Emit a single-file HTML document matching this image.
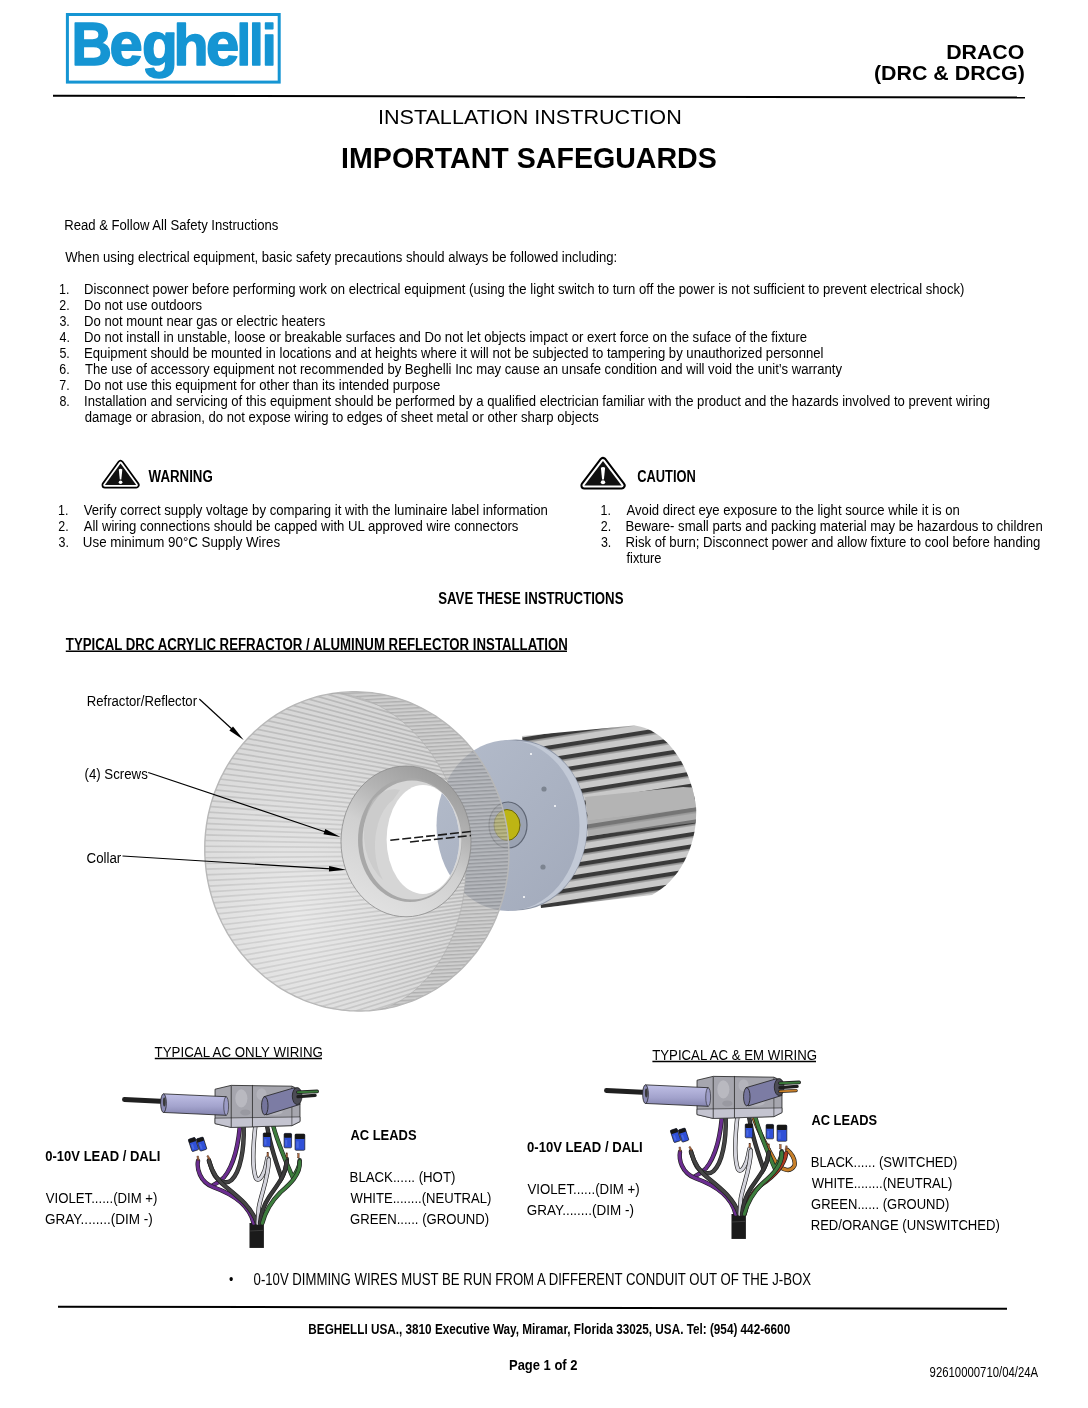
<!DOCTYPE html>
<html><head><meta charset="utf-8"><title>Beghelli Draco Installation Instruction</title>
<style>
html,body{margin:0;padding:0;background:#fff;width:1088px;height:1408px;overflow:hidden}
svg{display:block;position:absolute;left:0;top:0;will-change:transform}
text{font-family:"Liberation Sans",sans-serif;fill:#000}
</style></head><body>
<svg width="1088" height="1408" viewBox="0 0 1088 1408">
<g font-weight="bold" font-size="61">
<text transform="translate(71.39 64.9) scale(0.920 1.000)" style="fill:#1595d3;stroke:#1595d3;stroke-width:1.60;stroke-linejoin:round">B</text>
<text transform="translate(109.43 64.9) scale(0.980 1.000)" style="fill:#1595d3;stroke:#1595d3;stroke-width:1.60;stroke-linejoin:round">e</text>
<text transform="translate(141.97 64.9) scale(0.960 1.000)" style="fill:#1595d3;stroke:#1595d3;stroke-width:1.60;stroke-linejoin:round">g</text>
<text transform="translate(173.42 64.9) scale(0.940 0.950)" style="fill:#1595d3;stroke:#1595d3;stroke-width:1.60;stroke-linejoin:round">h</text>
<text transform="translate(205.93 64.9) scale(0.980 1.000)" style="fill:#1595d3;stroke:#1595d3;stroke-width:1.60;stroke-linejoin:round">e</text>
<text transform="translate(236.52 64.9) scale(0.860 0.950)" style="fill:#1595d3;stroke:#1595d3;stroke-width:1.60;stroke-linejoin:round">l</text>
<text transform="translate(248.92 64.9) scale(0.860 0.950)" style="fill:#1595d3;stroke:#1595d3;stroke-width:1.60;stroke-linejoin:round">l</text>
<text transform="translate(261.64 64.9) scale(0.880 0.950)" style="fill:#1595d3;stroke:#1595d3;stroke-width:1.60;stroke-linejoin:round">i</text>
</g>
<rect x="67.4" y="14.5" width="211.8" height="67.6" fill="none" stroke="#1595d3" stroke-width="3"/>
<!-- header rule -->
<line x1="53" y1="95.7" x2="1025" y2="97.6" stroke="#000" stroke-width="2"/>
<!-- footer rule -->
<line x1="58" y1="1306.7" x2="1007" y2="1308.7" stroke="#000" stroke-width="2"/>
<!-- underlines -->
<line x1="65.8" y1="651.2" x2="567" y2="651.2" stroke="#000" stroke-width="1.5"/>
<line x1="154.8" y1="1058.5" x2="322" y2="1058.5" stroke="#000" stroke-width="1.6"/>
<line x1="652.4" y1="1061.5" x2="816" y2="1061.5" stroke="#000" stroke-width="1.6"/>
<!-- warning icons -->

<g>
<path d="M603 461 L621.6 485.5 L584.4 485.5 Z" fill="#000" stroke="#000" stroke-width="8" stroke-linejoin="round"/>
<path d="M603 461 L621.6 485.5 L584.4 485.5 Z" fill="#fff" stroke="#fff" stroke-width="4" stroke-linejoin="round"/>
<path d="M603 461 L621.6 485.5 L584.4 485.5 Z" fill="#111"/>
<path d="M600.9 467.8 Q603 466.2 605.1 467.8 L603.9 479.4 L602.1 479.4 Z" fill="#fff"/>
<ellipse cx="603" cy="482.3" rx="2.2" ry="2" fill="#fff"/>
</g>
<g transform="translate(101.3 460) scale(0.841 0.88) translate(-580.1 -457.1)">
<path d="M603 461 L621.6 485.5 L584.4 485.5 Z" fill="#000" stroke="#000" stroke-width="8" stroke-linejoin="round"/>
<path d="M603 461 L621.6 485.5 L584.4 485.5 Z" fill="#fff" stroke="#fff" stroke-width="4" stroke-linejoin="round"/>
<path d="M603 461 L621.6 485.5 L584.4 485.5 Z" fill="#111"/>
<path d="M600.9 467.8 Q603 466.2 605.1 467.8 L603.9 479.4 L602.1 479.4 Z" fill="#fff"/>
<ellipse cx="603" cy="482.3" rx="2.2" ry="2" fill="#fff"/>
</g>

<defs>
<pattern id="fins" patternUnits="userSpaceOnUse" width="12" height="12" patternTransform="rotate(-9 640 810)">
<rect width="12" height="12" fill="#c9c9c9"/>
<rect y="0" width="12" height="4.4" fill="#3a3a3a"/>
<rect y="4.4" width="12" height="1.2" fill="#8a8a8a"/>
</pattern>
<pattern id="stria" patternUnits="userSpaceOnUse" width="20" height="4.2" patternTransform="rotate(1.5 358 851)">
<rect width="20" height="4.2" fill="#dedede"/>
<rect y="0" width="20" height="1.4" fill="#c4c4c4"/>
</pattern>
<pattern id="stria2" patternUnits="userSpaceOnUse" width="20" height="3.6" patternTransform="rotate(-3 450 851)">
<rect width="20" height="3.6" fill="#b8b8b8"/>
<rect y="0" width="20" height="1.4" fill="#8c8c8c"/>
</pattern>
<linearGradient id="diskg" x1="0" y1="0" x2="1" y2="1">
<stop offset="0" stop-color="#b4bccb"/><stop offset="1" stop-color="#a2aabb"/>
</linearGradient>
<linearGradient id="collarg" x1="0.75" y1="0.05" x2="0.3" y2="0.95">
<stop offset="0" stop-color="#9c9c9c"/><stop offset="0.3" stop-color="#b4b4b4"/><stop offset="0.55" stop-color="#d0d0d0"/><stop offset="1" stop-color="#e0e0e0"/>
</linearGradient>
<radialGradient id="refl" cx="0.35" cy="0.7" r="0.7">
<stop offset="0" stop-color="#fff" stop-opacity="0.45"/><stop offset="1" stop-color="#fff" stop-opacity="0"/>
</radialGradient>
<clipPath id="hsclip"><path d="M522 736 L634 725.5 C662 728 690 760 696 807 C698 845 680 880 652 895 L541 908 Z"/></clipPath>
<clipPath id="holeclip"><ellipse cx="423" cy="839.5" rx="36.4" ry="54.5"/></clipPath>
</defs>
<!-- heatsink -->
<path d="M522 736 L634 725.5 C662 728 690 760 696 807 C698 845 680 880 652 895 L541 908 Z" fill="url(#fins)"/>
<g clip-path="url(#hsclip)"><path d="M585 797 L683 787 L700 788 L700 807 L588 820 Z" fill="#b4b4b4"/>
<path d="M588 820 L700 807 L700 822 L588 836 Z" fill="#9c9c9c" opacity="0.6"/></g>
<!-- disk -->
<ellipse cx="516" cy="825" rx="71.5" ry="85.5" fill="#8e96a6"/>
<ellipse cx="517" cy="825" rx="70" ry="84" fill="#c2c9d6"/>
<ellipse cx="508" cy="825.5" rx="71.5" ry="85.5" fill="url(#diskg)"/>
<ellipse cx="508" cy="825" rx="19" ry="23" fill="#9aa2b2" stroke="#5f6674" stroke-width="1.2"/>
<ellipse cx="507" cy="825" rx="13" ry="15.5" fill="#bdb514" stroke="#6a6408" stroke-width="1"/>
<circle cx="544" cy="789" r="2.6" fill="#7c8490"/>
<circle cx="543" cy="867" r="2.6" fill="#7c8490"/>
<circle cx="531" cy="754" r="1" fill="#fff"/>
<circle cx="555" cy="806" r="1" fill="#fff"/>
<circle cx="524" cy="897" r="1" fill="#fff"/>
<!-- reflector -->
<clipPath id="bodyclip"><path d="M463.5 834.9 L464.1 839.0 L464.6 843.2 L465.0 847.3 L465.4 851.5 L465.6 855.7 L465.8 859.8 L465.9 864.0 L465.9 868.1 L465.8 872.3 L465.6 876.4 L465.3 880.5 L465.0 884.6 L464.5 888.7 L464.0 892.8 L463.4 896.8 L462.7 900.8 L462.0 904.7 L461.1 908.7 L460.2 912.6 L459.2 916.4 L458.1 920.2 L456.9 924.0 L455.7 927.7 L454.4 931.3 L453.0 935.0 L451.5 938.5 L450.0 942.0 L448.4 945.4 L446.7 948.8 L445.0 952.1 L443.2 955.3 L441.3 958.5 L439.4 961.6 L437.4 964.6 L435.3 967.5 L433.3 970.4 L431.1 973.2 L428.9 975.9 L426.7 978.5 L424.4 981.0 L422.1 983.4 L419.7 985.7 L417.3 988.0 L414.9 990.1 L412.4 992.2 L410.0 994.1 L407.5 996.0 L405.0 997.7 L402.5 999.4 L400.0 1000.9 L397.5 1002.3 L395.0 1003.7 L392.6 1004.9 L390.2 1006.0 L387.9 1006.9 L385.6 1007.8 L383.6 1008.5 L381.7 1009.0 L380.3 1009.4 L381.3 1009.3 L377.4 1009.9 L373.4 1010.3 L369.4 1010.7 L365.5 1010.9 L361.5 1011.0 L357.5 1011.0 L353.5 1010.9 L349.6 1010.7 L345.6 1010.4 L341.6 1010.0 L337.7 1009.4 L333.7 1008.8 L329.8 1008.0 L325.9 1007.2 L322.0 1006.2 L318.1 1005.1 L314.3 1003.9 L310.5 1002.7 L306.7 1001.3 L303.0 999.8 L299.3 998.2 L295.6 996.5 L292.0 994.7 L288.4 992.8 L284.9 990.8 L281.4 988.8 L277.9 986.6 L274.6 984.3 L271.3 981.9 L268.0 979.5 L264.8 977.0 L261.7 974.3 L258.6 971.6 L255.6 968.8 L252.6 966.0 L249.8 963.0 L247.0 960.0 L244.3 956.9 L241.6 953.7 L239.1 950.5 L236.6 947.2 L234.2 943.8 L231.9 940.4 L229.7 936.9 L227.5 933.3 L225.5 929.7 L223.5 926.0 L221.6 922.3 L219.9 918.5 L218.2 914.7 L216.6 910.9 L215.1 907.0 L213.7 903.0 L212.4 899.1 L211.2 895.1 L210.1 891.0 L209.1 887.0 L208.2 882.9 L207.4 878.8 L206.7 874.6 L206.1 870.5 L205.7 866.3 L205.3 862.2 L205.0 858.0 L204.8 853.8 L204.8 849.6 L204.8 845.5 L204.9 841.3 L205.2 837.1 L205.5 833.0 L206.0 828.8 L206.5 824.7 L207.2 820.6 L207.9 816.5 L208.8 812.4 L209.8 808.4 L210.8 804.4 L212.0 800.4 L213.3 796.5 L214.6 792.6 L216.1 788.7 L217.6 784.9 L219.3 781.1 L221.0 777.4 L222.9 773.7 L224.8 770.1 L226.8 766.5 L228.9 763.0 L231.1 759.6 L233.4 756.2 L235.8 752.8 L238.2 749.6 L240.8 746.4 L243.4 743.3 L246.1 740.3 L248.8 737.3 L251.7 734.4 L254.6 731.6 L257.6 728.9 L260.6 726.3 L263.7 723.7 L266.9 721.2 L270.2 718.9 L273.5 716.6 L276.8 714.4 L280.2 712.3 L283.7 710.3 L287.2 708.4 L290.8 706.6 L294.4 704.9 L298.0 703.3 L301.7 701.8 L305.5 700.4 L309.2 699.1 L313.0 697.9 L316.8 696.8 L320.7 695.8 L324.6 694.9 L328.5 694.1 L332.4 693.5 L331.5 693.7 L332.9 693.6 L334.8 693.6 L337.0 693.7 L339.4 693.8 L341.9 694.0 L344.5 694.3 L347.2 694.7 L350.0 695.2 L352.8 695.8 L355.6 696.5 L358.5 697.4 L361.4 698.3 L364.3 699.3 L367.3 700.4 L370.2 701.6 L373.2 702.9 L376.1 704.3 L379.1 705.8 L382.0 707.5 L385.0 709.2 L387.9 711.0 L390.8 712.9 L393.7 714.9 L396.6 717.0 L399.4 719.1 L402.2 721.4 L405.0 723.8 L407.7 726.2 L410.4 728.8 L413.0 731.4 L415.7 734.1 L418.2 736.9 L420.7 739.7 L423.2 742.7 L425.6 745.7 L428.0 748.8 L430.3 752.0 L432.6 755.2 L434.7 758.5 L436.9 761.9 L438.9 765.3 L440.9 768.8 L442.9 772.3 L444.7 775.9 L446.5 779.6 L448.2 783.3 L449.9 787.0 L451.4 790.8 L452.9 794.7 L454.4 798.6 L455.7 802.5 L456.9 806.4 L458.1 810.4 L459.2 814.4 L460.2 818.5 L461.2 822.6 L462.0 826.7 L462.8 830.8 Z"/></clipPath>
<path d="M463.5 834.9 L464.1 839.0 L464.6 843.2 L465.0 847.3 L465.4 851.5 L465.6 855.7 L465.8 859.8 L465.9 864.0 L465.9 868.1 L465.8 872.3 L465.6 876.4 L465.3 880.5 L465.0 884.6 L464.5 888.7 L464.0 892.8 L463.4 896.8 L462.7 900.8 L462.0 904.7 L461.1 908.7 L460.2 912.6 L459.2 916.4 L458.1 920.2 L456.9 924.0 L455.7 927.7 L454.4 931.3 L453.0 935.0 L451.5 938.5 L450.0 942.0 L448.4 945.4 L446.7 948.8 L445.0 952.1 L443.2 955.3 L441.3 958.5 L439.4 961.6 L437.4 964.6 L435.3 967.5 L433.3 970.4 L431.1 973.2 L428.9 975.9 L426.7 978.5 L424.4 981.0 L422.1 983.4 L419.7 985.7 L417.3 988.0 L414.9 990.1 L412.4 992.2 L410.0 994.1 L407.5 996.0 L405.0 997.7 L402.5 999.4 L400.0 1000.9 L397.5 1002.3 L395.0 1003.7 L392.6 1004.9 L390.2 1006.0 L387.9 1006.9 L385.6 1007.8 L383.6 1008.5 L381.7 1009.0 L380.3 1009.4 L381.3 1009.3 L377.4 1009.9 L373.4 1010.3 L369.4 1010.7 L365.5 1010.9 L361.5 1011.0 L357.5 1011.0 L353.5 1010.9 L349.6 1010.7 L345.6 1010.4 L341.6 1010.0 L337.7 1009.4 L333.7 1008.8 L329.8 1008.0 L325.9 1007.2 L322.0 1006.2 L318.1 1005.1 L314.3 1003.9 L310.5 1002.7 L306.7 1001.3 L303.0 999.8 L299.3 998.2 L295.6 996.5 L292.0 994.7 L288.4 992.8 L284.9 990.8 L281.4 988.8 L277.9 986.6 L274.6 984.3 L271.3 981.9 L268.0 979.5 L264.8 977.0 L261.7 974.3 L258.6 971.6 L255.6 968.8 L252.6 966.0 L249.8 963.0 L247.0 960.0 L244.3 956.9 L241.6 953.7 L239.1 950.5 L236.6 947.2 L234.2 943.8 L231.9 940.4 L229.7 936.9 L227.5 933.3 L225.5 929.7 L223.5 926.0 L221.6 922.3 L219.9 918.5 L218.2 914.7 L216.6 910.9 L215.1 907.0 L213.7 903.0 L212.4 899.1 L211.2 895.1 L210.1 891.0 L209.1 887.0 L208.2 882.9 L207.4 878.8 L206.7 874.6 L206.1 870.5 L205.7 866.3 L205.3 862.2 L205.0 858.0 L204.8 853.8 L204.8 849.6 L204.8 845.5 L204.9 841.3 L205.2 837.1 L205.5 833.0 L206.0 828.8 L206.5 824.7 L207.2 820.6 L207.9 816.5 L208.8 812.4 L209.8 808.4 L210.8 804.4 L212.0 800.4 L213.3 796.5 L214.6 792.6 L216.1 788.7 L217.6 784.9 L219.3 781.1 L221.0 777.4 L222.9 773.7 L224.8 770.1 L226.8 766.5 L228.9 763.0 L231.1 759.6 L233.4 756.2 L235.8 752.8 L238.2 749.6 L240.8 746.4 L243.4 743.3 L246.1 740.3 L248.8 737.3 L251.7 734.4 L254.6 731.6 L257.6 728.9 L260.6 726.3 L263.7 723.7 L266.9 721.2 L270.2 718.9 L273.5 716.6 L276.8 714.4 L280.2 712.3 L283.7 710.3 L287.2 708.4 L290.8 706.6 L294.4 704.9 L298.0 703.3 L301.7 701.8 L305.5 700.4 L309.2 699.1 L313.0 697.9 L316.8 696.8 L320.7 695.8 L324.6 694.9 L328.5 694.1 L332.4 693.5 L331.5 693.7 L332.9 693.6 L334.8 693.6 L337.0 693.7 L339.4 693.8 L341.9 694.0 L344.5 694.3 L347.2 694.7 L350.0 695.2 L352.8 695.8 L355.6 696.5 L358.5 697.4 L361.4 698.3 L364.3 699.3 L367.3 700.4 L370.2 701.6 L373.2 702.9 L376.1 704.3 L379.1 705.8 L382.0 707.5 L385.0 709.2 L387.9 711.0 L390.8 712.9 L393.7 714.9 L396.6 717.0 L399.4 719.1 L402.2 721.4 L405.0 723.8 L407.7 726.2 L410.4 728.8 L413.0 731.4 L415.7 734.1 L418.2 736.9 L420.7 739.7 L423.2 742.7 L425.6 745.7 L428.0 748.8 L430.3 752.0 L432.6 755.2 L434.7 758.5 L436.9 761.9 L438.9 765.3 L440.9 768.8 L442.9 772.3 L444.7 775.9 L446.5 779.6 L448.2 783.3 L449.9 787.0 L451.4 790.8 L452.9 794.7 L454.4 798.6 L455.7 802.5 L456.9 806.4 L458.1 810.4 L459.2 814.4 L460.2 818.5 L461.2 822.6 L462.0 826.7 L462.8 830.8 Z" fill="#d6d6d6"/>
<g clip-path="url(#bodyclip)"><path d="M860.0 852.0 L207.5 1156.3 M860.0 852.0 L204.8 1150.6 M860.0 852.0 L202.2 1144.9 M860.0 852.0 L199.7 1139.1 M860.0 852.0 L197.2 1133.3 M860.0 852.0 L194.8 1127.5 M860.0 852.0 L192.4 1121.7 M860.0 852.0 L190.1 1115.9 M860.0 852.0 L187.8 1110.0 M860.0 852.0 L185.6 1104.1 M860.0 852.0 L183.4 1098.3 M860.0 852.0 L181.3 1092.3 M860.0 852.0 L179.2 1086.4 M860.0 852.0 L177.2 1080.5 M860.0 852.0 L175.2 1074.5 M860.0 852.0 L173.3 1068.5 M860.0 852.0 L171.5 1062.5 M860.0 852.0 L169.6 1056.5 M860.0 852.0 L167.9 1050.5 M860.0 852.0 L166.2 1044.4 M860.0 852.0 L164.5 1038.3 M860.0 852.0 L162.9 1032.3 M860.0 852.0 L161.4 1026.2 M860.0 852.0 L159.9 1020.1 M860.0 852.0 L158.5 1014.0 M860.0 852.0 L157.1 1007.8 M860.0 852.0 L155.7 1001.7 M860.0 852.0 L154.5 995.5 M860.0 852.0 L153.2 989.4 M860.0 852.0 L152.1 983.2 M860.0 852.0 L150.9 977.0 M860.0 852.0 L149.9 970.8 M860.0 852.0 L148.9 964.6 M860.0 852.0 L147.9 958.4 M860.0 852.0 L147.0 952.2 M860.0 852.0 L146.2 946.0 M860.0 852.0 L145.4 939.7 M860.0 852.0 L144.6 933.5 M860.0 852.0 L143.9 927.3 M860.0 852.0 L143.3 921.0 M860.0 852.0 L142.7 914.8 M860.0 852.0 L142.2 908.5 M860.0 852.0 L141.8 902.2 M860.0 852.0 L141.3 896.0 M860.0 852.0 L141.0 889.7 M860.0 852.0 L140.7 883.4 M860.0 852.0 L140.4 877.1 M860.0 852.0 L140.2 870.8 M860.0 852.0 L140.1 864.6 M860.0 852.0 L140.0 858.3 M860.0 852.0 L140.0 852.0 M860.0 852.0 L140.0 845.7 M860.0 852.0 L140.1 839.4 M860.0 852.0 L140.2 833.2 M860.0 852.0 L140.4 826.9 M860.0 852.0 L140.7 820.6 M860.0 852.0 L141.0 814.3 M860.0 852.0 L141.3 808.0 M860.0 852.0 L141.8 801.8 M860.0 852.0 L142.2 795.5 M860.0 852.0 L142.7 789.2 M860.0 852.0 L143.3 783.0 M860.0 852.0 L143.9 776.7 M860.0 852.0 L144.6 770.5 M860.0 852.0 L145.4 764.3 M860.0 852.0 L146.2 758.0 M860.0 852.0 L147.0 751.8 M860.0 852.0 L147.9 745.6 M860.0 852.0 L148.9 739.4 M860.0 852.0 L149.9 733.2 M860.0 852.0 L150.9 727.0 M860.0 852.0 L152.1 720.8 M860.0 852.0 L153.2 714.6 M860.0 852.0 L154.5 708.5 M860.0 852.0 L155.7 702.3 M860.0 852.0 L157.1 696.2 M860.0 852.0 L158.5 690.0 M860.0 852.0 L159.9 683.9 M860.0 852.0 L161.4 677.8 M860.0 852.0 L162.9 671.7 M860.0 852.0 L164.5 665.7 M860.0 852.0 L166.2 659.6 M860.0 852.0 L167.9 653.5 M860.0 852.0 L169.6 647.5 M860.0 852.0 L171.5 641.5 M860.0 852.0 L173.3 635.5 M860.0 852.0 L175.2 629.5 M860.0 852.0 L177.2 623.5 M860.0 852.0 L179.2 617.6 M860.0 852.0 L181.3 611.7 M860.0 852.0 L183.4 605.7 M860.0 852.0 L185.6 599.9 M860.0 852.0 L187.8 594.0 M860.0 852.0 L190.1 588.1 M860.0 852.0 L192.4 582.3 M860.0 852.0 L194.8 576.5 M860.0 852.0 L197.2 570.7 M860.0 852.0 L199.7 564.9 M860.0 852.0 L202.2 559.1 M860.0 852.0 L204.8 553.4 M860.0 852.0 L207.5 547.7" stroke="#b9b9b9" stroke-width="1.7" fill="none"/></g>
<path d="M463.5 834.9 L464.1 839.0 L464.6 843.2 L465.0 847.3 L465.4 851.5 L465.6 855.7 L465.8 859.8 L465.9 864.0 L465.9 868.1 L465.8 872.3 L465.6 876.4 L465.3 880.5 L465.0 884.6 L464.5 888.7 L464.0 892.8 L463.4 896.8 L462.7 900.8 L462.0 904.7 L461.1 908.7 L460.2 912.6 L459.2 916.4 L458.1 920.2 L456.9 924.0 L455.7 927.7 L454.4 931.3 L453.0 935.0 L451.5 938.5 L450.0 942.0 L448.4 945.4 L446.7 948.8 L445.0 952.1 L443.2 955.3 L441.3 958.5 L439.4 961.6 L437.4 964.6 L435.3 967.5 L433.3 970.4 L431.1 973.2 L428.9 975.9 L426.7 978.5 L424.4 981.0 L422.1 983.4 L419.7 985.7 L417.3 988.0 L414.9 990.1 L412.4 992.2 L410.0 994.1 L407.5 996.0 L405.0 997.7 L402.5 999.4 L400.0 1000.9 L397.5 1002.3 L395.0 1003.7 L392.6 1004.9 L390.2 1006.0 L387.9 1006.9 L385.6 1007.8 L383.6 1008.5 L381.7 1009.0 L380.3 1009.4 L381.3 1009.3 L377.4 1009.9 L373.4 1010.3 L369.4 1010.7 L365.5 1010.9 L361.5 1011.0 L357.5 1011.0 L353.5 1010.9 L349.6 1010.7 L345.6 1010.4 L341.6 1010.0 L337.7 1009.4 L333.7 1008.8 L329.8 1008.0 L325.9 1007.2 L322.0 1006.2 L318.1 1005.1 L314.3 1003.9 L310.5 1002.7 L306.7 1001.3 L303.0 999.8 L299.3 998.2 L295.6 996.5 L292.0 994.7 L288.4 992.8 L284.9 990.8 L281.4 988.8 L277.9 986.6 L274.6 984.3 L271.3 981.9 L268.0 979.5 L264.8 977.0 L261.7 974.3 L258.6 971.6 L255.6 968.8 L252.6 966.0 L249.8 963.0 L247.0 960.0 L244.3 956.9 L241.6 953.7 L239.1 950.5 L236.6 947.2 L234.2 943.8 L231.9 940.4 L229.7 936.9 L227.5 933.3 L225.5 929.7 L223.5 926.0 L221.6 922.3 L219.9 918.5 L218.2 914.7 L216.6 910.9 L215.1 907.0 L213.7 903.0 L212.4 899.1 L211.2 895.1 L210.1 891.0 L209.1 887.0 L208.2 882.9 L207.4 878.8 L206.7 874.6 L206.1 870.5 L205.7 866.3 L205.3 862.2 L205.0 858.0 L204.8 853.8 L204.8 849.6 L204.8 845.5 L204.9 841.3 L205.2 837.1 L205.5 833.0 L206.0 828.8 L206.5 824.7 L207.2 820.6 L207.9 816.5 L208.8 812.4 L209.8 808.4 L210.8 804.4 L212.0 800.4 L213.3 796.5 L214.6 792.6 L216.1 788.7 L217.6 784.9 L219.3 781.1 L221.0 777.4 L222.9 773.7 L224.8 770.1 L226.8 766.5 L228.9 763.0 L231.1 759.6 L233.4 756.2 L235.8 752.8 L238.2 749.6 L240.8 746.4 L243.4 743.3 L246.1 740.3 L248.8 737.3 L251.7 734.4 L254.6 731.6 L257.6 728.9 L260.6 726.3 L263.7 723.7 L266.9 721.2 L270.2 718.9 L273.5 716.6 L276.8 714.4 L280.2 712.3 L283.7 710.3 L287.2 708.4 L290.8 706.6 L294.4 704.9 L298.0 703.3 L301.7 701.8 L305.5 700.4 L309.2 699.1 L313.0 697.9 L316.8 696.8 L320.7 695.8 L324.6 694.9 L328.5 694.1 L332.4 693.5 L331.5 693.7 L332.9 693.6 L334.8 693.6 L337.0 693.7 L339.4 693.8 L341.9 694.0 L344.5 694.3 L347.2 694.7 L350.0 695.2 L352.8 695.8 L355.6 696.5 L358.5 697.4 L361.4 698.3 L364.3 699.3 L367.3 700.4 L370.2 701.6 L373.2 702.9 L376.1 704.3 L379.1 705.8 L382.0 707.5 L385.0 709.2 L387.9 711.0 L390.8 712.9 L393.7 714.9 L396.6 717.0 L399.4 719.1 L402.2 721.4 L405.0 723.8 L407.7 726.2 L410.4 728.8 L413.0 731.4 L415.7 734.1 L418.2 736.9 L420.7 739.7 L423.2 742.7 L425.6 745.7 L428.0 748.8 L430.3 752.0 L432.6 755.2 L434.7 758.5 L436.9 761.9 L438.9 765.3 L440.9 768.8 L442.9 772.3 L444.7 775.9 L446.5 779.6 L448.2 783.3 L449.9 787.0 L451.4 790.8 L452.9 794.7 L454.4 798.6 L455.7 802.5 L456.9 806.4 L458.1 810.4 L459.2 814.4 L460.2 818.5 L461.2 822.6 L462.0 826.7 L462.8 830.8 Z" fill="url(#refl)"/>
<path d="M507.0 828.2 L507.6 832.3 L508.0 836.5 L508.4 840.6 L508.7 844.8 L508.9 849.0 L508.9 853.2 L508.9 857.3 L508.8 861.5 L508.5 865.7 L508.2 869.8 L507.7 874.0 L507.2 878.1 L506.5 882.2 L505.8 886.3 L504.9 890.4 L503.9 894.4 L502.9 898.4 L501.7 902.4 L500.4 906.3 L499.1 910.2 L497.6 914.1 L496.1 917.9 L494.4 921.7 L492.7 925.4 L490.8 929.1 L488.9 932.7 L486.9 936.3 L484.8 939.8 L482.6 943.2 L480.3 946.6 L477.9 950.0 L475.5 953.2 L472.9 956.4 L470.3 959.5 L467.6 962.5 L464.9 965.5 L462.0 968.4 L459.1 971.2 L456.1 973.9 L453.1 976.5 L450.0 979.1 L446.8 981.6 L443.5 983.9 L440.2 986.2 L436.9 988.4 L433.5 990.5 L430.0 992.5 L426.5 994.4 L422.9 996.2 L419.3 997.9 L415.7 999.5 L412.0 1001.0 L408.2 1002.4 L404.5 1003.7 L400.7 1004.9 L396.9 1006.0 L393.0 1007.0 L389.1 1007.9 L385.2 1008.7 L381.3 1009.3 L377.4 1009.9 L373.4 1010.3 L369.4 1010.7 L365.5 1010.9 L361.5 1011.0 L357.5 1011.0 L353.5 1010.9 L349.6 1010.7 L345.6 1010.4 L341.6 1010.0 L337.7 1009.4 L333.7 1008.8 L329.8 1008.0 L325.9 1007.2 L322.0 1006.2 L318.1 1005.1 L314.3 1003.9 L310.5 1002.7 L306.7 1001.3 L303.0 999.8 L299.3 998.2 L295.6 996.5 L292.0 994.7 L288.4 992.8 L284.9 990.8 L281.4 988.8 L277.9 986.6 L274.6 984.3 L271.3 981.9 L268.0 979.5 L264.8 977.0 L261.7 974.3 L258.6 971.6 L255.6 968.8 L252.6 966.0 L249.8 963.0 L247.0 960.0 L244.3 956.9 L241.6 953.7 L239.1 950.5 L236.6 947.2 L234.2 943.8 L231.9 940.4 L229.7 936.9 L227.5 933.3 L225.5 929.7 L223.5 926.0 L221.6 922.3 L219.9 918.5 L218.2 914.7 L216.6 910.9 L215.1 907.0 L213.7 903.0 L212.4 899.1 L211.2 895.1 L210.1 891.0 L209.1 887.0 L208.2 882.9 L207.4 878.8 L206.7 874.6 L206.1 870.5 L205.7 866.3 L205.3 862.2 L205.0 858.0 L204.8 853.8 L204.8 849.6 L204.8 845.5 L204.9 841.3 L205.2 837.1 L205.5 833.0 L206.0 828.8 L206.5 824.7 L207.2 820.6 L207.9 816.5 L208.8 812.4 L209.8 808.4 L210.8 804.4 L212.0 800.4 L213.3 796.5 L214.6 792.6 L216.1 788.7 L217.6 784.9 L219.3 781.1 L221.0 777.4 L222.9 773.7 L224.8 770.1 L226.8 766.5 L228.9 763.0 L231.1 759.6 L233.4 756.2 L235.8 752.8 L238.2 749.6 L240.8 746.4 L243.4 743.3 L246.1 740.3 L248.8 737.3 L251.7 734.4 L254.6 731.6 L257.6 728.9 L260.6 726.3 L263.7 723.7 L266.9 721.2 L270.2 718.9 L273.5 716.6 L276.8 714.4 L280.2 712.3 L283.7 710.3 L287.2 708.4 L290.8 706.6 L294.4 704.9 L298.0 703.3 L301.7 701.8 L305.5 700.4 L309.2 699.1 L313.0 697.9 L316.8 696.8 L320.7 695.8 L324.6 694.9 L328.5 694.1 L332.4 693.5 L336.3 692.9 L340.3 692.5 L344.3 692.1 L348.2 691.9 L352.2 691.8 L356.2 691.8 L360.2 691.9 L364.1 692.1 L368.1 692.4 L372.1 692.8 L376.0 693.4 L380.0 694.0 L383.9 694.8 L387.8 695.6 L391.7 696.6 L395.6 697.7 L399.4 698.9 L403.2 700.1 L407.0 701.5 L410.7 703.0 L414.4 704.6 L418.1 706.3 L421.7 708.1 L425.3 710.0 L428.8 712.0 L432.3 714.0 L435.8 716.2 L439.1 718.5 L442.4 720.9 L445.7 723.3 L448.9 725.8 L452.0 728.5 L455.1 731.2 L458.1 734.0 L461.1 736.8 L463.9 739.8 L466.7 742.8 L469.4 745.9 L472.1 749.1 L474.6 752.3 L477.1 755.6 L479.5 759.0 L481.8 762.4 L484.0 765.9 L486.2 769.5 L488.2 773.1 L490.2 776.8 L492.1 780.5 L493.8 784.3 L495.5 788.1 L497.1 791.9 L498.6 795.8 L500.0 799.8 L501.3 803.7 L502.5 807.7 L503.6 811.8 L504.6 815.8 L505.5 819.9 L506.3 824.0 Z M462.8 830.8 L462.0 826.7 L461.2 822.6 L460.2 818.5 L459.2 814.4 L458.1 810.4 L456.9 806.4 L455.7 802.5 L454.4 798.6 L452.9 794.7 L451.4 790.8 L449.9 787.0 L448.2 783.3 L446.5 779.6 L444.7 775.9 L442.9 772.3 L440.9 768.8 L438.9 765.3 L436.9 761.9 L434.7 758.5 L432.6 755.2 L430.3 752.0 L428.0 748.8 L425.6 745.7 L423.2 742.7 L420.7 739.7 L418.2 736.9 L415.7 734.1 L413.0 731.4 L410.4 728.8 L407.7 726.2 L405.0 723.8 L402.2 721.4 L399.4 719.1 L396.6 717.0 L393.7 714.9 L390.8 712.9 L387.9 711.0 L385.0 709.2 L382.0 707.5 L379.1 705.8 L376.1 704.3 L373.2 702.9 L370.2 701.6 L367.3 700.4 L364.3 699.3 L361.4 698.3 L358.5 697.4 L355.6 696.5 L352.8 695.8 L350.0 695.2 L347.2 694.7 L344.5 694.3 L341.9 694.0 L339.4 693.8 L337.0 693.7 L334.8 693.6 L332.9 693.6 L331.5 693.7 L332.4 693.5 L328.5 694.1 L324.6 694.9 L320.7 695.8 L316.8 696.8 L313.0 697.9 L309.2 699.1 L305.5 700.4 L301.7 701.8 L298.0 703.3 L294.4 704.9 L290.8 706.6 L287.2 708.4 L283.7 710.3 L280.2 712.3 L276.8 714.4 L273.5 716.6 L270.2 718.9 L266.9 721.2 L263.7 723.7 L260.6 726.3 L257.6 728.9 L254.6 731.6 L251.7 734.4 L248.8 737.3 L246.1 740.3 L243.4 743.3 L240.8 746.4 L238.2 749.6 L235.8 752.8 L233.4 756.2 L231.1 759.6 L228.9 763.0 L226.8 766.5 L224.8 770.1 L222.9 773.7 L221.0 777.4 L219.3 781.1 L217.6 784.9 L216.1 788.7 L214.6 792.6 L213.3 796.5 L212.0 800.4 L210.8 804.4 L209.8 808.4 L208.8 812.4 L207.9 816.5 L207.2 820.6 L206.5 824.7 L206.0 828.8 L205.5 833.0 L205.2 837.1 L204.9 841.3 L204.8 845.5 L204.8 849.6 L204.8 853.8 L205.0 858.0 L205.3 862.2 L205.7 866.3 L206.1 870.5 L206.7 874.6 L207.4 878.8 L208.2 882.9 L209.1 887.0 L210.1 891.0 L211.2 895.1 L212.4 899.1 L213.7 903.0 L215.1 907.0 L216.6 910.9 L218.2 914.7 L219.9 918.5 L221.6 922.3 L223.5 926.0 L225.5 929.7 L227.5 933.3 L229.7 936.9 L231.9 940.4 L234.2 943.8 L236.6 947.2 L239.1 950.5 L241.6 953.7 L244.3 956.9 L247.0 960.0 L249.8 963.0 L252.6 966.0 L255.6 968.8 L258.6 971.6 L261.7 974.3 L264.8 977.0 L268.0 979.5 L271.3 981.9 L274.6 984.3 L277.9 986.6 L281.4 988.8 L284.9 990.8 L288.4 992.8 L292.0 994.7 L295.6 996.5 L299.3 998.2 L303.0 999.8 L306.7 1001.3 L310.5 1002.7 L314.3 1003.9 L318.1 1005.1 L322.0 1006.2 L325.9 1007.2 L329.8 1008.0 L333.7 1008.8 L337.7 1009.4 L341.6 1010.0 L345.6 1010.4 L349.6 1010.7 L353.5 1010.9 L357.5 1011.0 L361.5 1011.0 L365.5 1010.9 L369.4 1010.7 L373.4 1010.3 L377.4 1009.9 L381.3 1009.3 L380.3 1009.4 L381.7 1009.0 L383.6 1008.5 L385.6 1007.8 L387.9 1006.9 L390.2 1006.0 L392.6 1004.9 L395.0 1003.7 L397.5 1002.3 L400.0 1000.9 L402.5 999.4 L405.0 997.7 L407.5 996.0 L410.0 994.1 L412.4 992.2 L414.9 990.1 L417.3 988.0 L419.7 985.7 L422.1 983.4 L424.4 981.0 L426.7 978.5 L428.9 975.9 L431.1 973.2 L433.3 970.4 L435.3 967.5 L437.4 964.6 L439.4 961.6 L441.3 958.5 L443.2 955.3 L445.0 952.1 L446.7 948.8 L448.4 945.4 L450.0 942.0 L451.5 938.5 L453.0 935.0 L454.4 931.3 L455.7 927.7 L456.9 924.0 L458.1 920.2 L459.2 916.4 L460.2 912.6 L461.1 908.7 L462.0 904.7 L462.7 900.8 L463.4 896.8 L464.0 892.8 L464.5 888.7 L465.0 884.6 L465.3 880.5 L465.6 876.4 L465.8 872.3 L465.9 868.1 L465.9 864.0 L465.8 859.8 L465.6 855.7 L465.4 851.5 L465.0 847.3 L464.6 843.2 L464.1 839.0 L463.5 834.9 Z" fill="url(#stria2)" fill-rule="evenodd" opacity="0.7"/>
<path d="M507.0 828.2 L507.6 832.3 L508.0 836.5 L508.4 840.6 L508.7 844.8 L508.9 849.0 L508.9 853.2 L508.9 857.3 L508.8 861.5 L508.5 865.7 L508.2 869.8 L507.7 874.0 L507.2 878.1 L506.5 882.2 L505.8 886.3 L504.9 890.4 L503.9 894.4 L502.9 898.4 L501.7 902.4 L500.4 906.3 L499.1 910.2 L497.6 914.1 L496.1 917.9 L494.4 921.7 L492.7 925.4 L490.8 929.1 L488.9 932.7 L486.9 936.3 L484.8 939.8 L482.6 943.2 L480.3 946.6 L477.9 950.0 L475.5 953.2 L472.9 956.4 L470.3 959.5 L467.6 962.5 L464.9 965.5 L462.0 968.4 L459.1 971.2 L456.1 973.9 L453.1 976.5 L450.0 979.1 L446.8 981.6 L443.5 983.9 L440.2 986.2 L436.9 988.4 L433.5 990.5 L430.0 992.5 L426.5 994.4 L422.9 996.2 L419.3 997.9 L415.7 999.5 L412.0 1001.0 L408.2 1002.4 L404.5 1003.7 L400.7 1004.9 L396.9 1006.0 L393.0 1007.0 L389.1 1007.9 L385.2 1008.7 L381.3 1009.3 L377.4 1009.9 L373.4 1010.3 L369.4 1010.7 L365.5 1010.9 L361.5 1011.0 L357.5 1011.0 L353.5 1010.9 L349.6 1010.7 L345.6 1010.4 L341.6 1010.0 L337.7 1009.4 L333.7 1008.8 L329.8 1008.0 L325.9 1007.2 L322.0 1006.2 L318.1 1005.1 L314.3 1003.9 L310.5 1002.7 L306.7 1001.3 L303.0 999.8 L299.3 998.2 L295.6 996.5 L292.0 994.7 L288.4 992.8 L284.9 990.8 L281.4 988.8 L277.9 986.6 L274.6 984.3 L271.3 981.9 L268.0 979.5 L264.8 977.0 L261.7 974.3 L258.6 971.6 L255.6 968.8 L252.6 966.0 L249.8 963.0 L247.0 960.0 L244.3 956.9 L241.6 953.7 L239.1 950.5 L236.6 947.2 L234.2 943.8 L231.9 940.4 L229.7 936.9 L227.5 933.3 L225.5 929.7 L223.5 926.0 L221.6 922.3 L219.9 918.5 L218.2 914.7 L216.6 910.9 L215.1 907.0 L213.7 903.0 L212.4 899.1 L211.2 895.1 L210.1 891.0 L209.1 887.0 L208.2 882.9 L207.4 878.8 L206.7 874.6 L206.1 870.5 L205.7 866.3 L205.3 862.2 L205.0 858.0 L204.8 853.8 L204.8 849.6 L204.8 845.5 L204.9 841.3 L205.2 837.1 L205.5 833.0 L206.0 828.8 L206.5 824.7 L207.2 820.6 L207.9 816.5 L208.8 812.4 L209.8 808.4 L210.8 804.4 L212.0 800.4 L213.3 796.5 L214.6 792.6 L216.1 788.7 L217.6 784.9 L219.3 781.1 L221.0 777.4 L222.9 773.7 L224.8 770.1 L226.8 766.5 L228.9 763.0 L231.1 759.6 L233.4 756.2 L235.8 752.8 L238.2 749.6 L240.8 746.4 L243.4 743.3 L246.1 740.3 L248.8 737.3 L251.7 734.4 L254.6 731.6 L257.6 728.9 L260.6 726.3 L263.7 723.7 L266.9 721.2 L270.2 718.9 L273.5 716.6 L276.8 714.4 L280.2 712.3 L283.7 710.3 L287.2 708.4 L290.8 706.6 L294.4 704.9 L298.0 703.3 L301.7 701.8 L305.5 700.4 L309.2 699.1 L313.0 697.9 L316.8 696.8 L320.7 695.8 L324.6 694.9 L328.5 694.1 L332.4 693.5 L336.3 692.9 L340.3 692.5 L344.3 692.1 L348.2 691.9 L352.2 691.8 L356.2 691.8 L360.2 691.9 L364.1 692.1 L368.1 692.4 L372.1 692.8 L376.0 693.4 L380.0 694.0 L383.9 694.8 L387.8 695.6 L391.7 696.6 L395.6 697.7 L399.4 698.9 L403.2 700.1 L407.0 701.5 L410.7 703.0 L414.4 704.6 L418.1 706.3 L421.7 708.1 L425.3 710.0 L428.8 712.0 L432.3 714.0 L435.8 716.2 L439.1 718.5 L442.4 720.9 L445.7 723.3 L448.9 725.8 L452.0 728.5 L455.1 731.2 L458.1 734.0 L461.1 736.8 L463.9 739.8 L466.7 742.8 L469.4 745.9 L472.1 749.1 L474.6 752.3 L477.1 755.6 L479.5 759.0 L481.8 762.4 L484.0 765.9 L486.2 769.5 L488.2 773.1 L490.2 776.8 L492.1 780.5 L493.8 784.3 L495.5 788.1 L497.1 791.9 L498.6 795.8 L500.0 799.8 L501.3 803.7 L502.5 807.7 L503.6 811.8 L504.6 815.8 L505.5 819.9 L506.3 824.0 Z" fill="none" stroke="#b8b8b8" stroke-width="1.4"/>
<path d="M332.4 693.5 L331.5 693.7 L332.9 693.6 L334.8 693.6 L337.0 693.7 L339.4 693.8 L341.9 694.0 L344.5 694.3 L347.2 694.7 L350.0 695.2 L352.8 695.8 L355.6 696.5 L358.5 697.4 L361.4 698.3 L364.3 699.3 L367.3 700.4 L370.2 701.6 L373.2 702.9 L376.1 704.3 L379.1 705.8 L382.0 707.5 L385.0 709.2 L387.9 711.0 L390.8 712.9 L393.7 714.9 L396.6 717.0 L399.4 719.1 L402.2 721.4 L405.0 723.8 L407.7 726.2 L410.4 728.8 L413.0 731.4 L415.7 734.1 L418.2 736.9 L420.7 739.7 L423.2 742.7 L425.6 745.7 L428.0 748.8 L430.3 752.0 L432.6 755.2 L434.7 758.5 L436.9 761.9 L438.9 765.3 L440.9 768.8 L442.9 772.3 L444.7 775.9 L446.5 779.6 L448.2 783.3 L449.9 787.0 L451.4 790.8 L452.9 794.7 L454.4 798.6 L455.7 802.5 L456.9 806.4 L458.1 810.4 L459.2 814.4 L460.2 818.5 L461.2 822.6 L462.0 826.7 L462.8 830.8 L463.5 834.9 L464.1 839.0 L464.6 843.2 L465.0 847.3 L465.4 851.5 L465.6 855.7 L465.8 859.8 L465.9 864.0 L465.9 868.1 L465.8 872.3 L465.6 876.4 L465.3 880.5 L465.0 884.6 L464.5 888.7 L464.0 892.8 L463.4 896.8 L462.7 900.8 L462.0 904.7 L461.1 908.7 L460.2 912.6 L459.2 916.4 L458.1 920.2 L456.9 924.0 L455.7 927.7 L454.4 931.3 L453.0 935.0 L451.5 938.5 L450.0 942.0 L448.4 945.4 L446.7 948.8 L445.0 952.1 L443.2 955.3 L441.3 958.5 L439.4 961.6 L437.4 964.6 L435.3 967.5 L433.3 970.4 L431.1 973.2 L428.9 975.9 L426.7 978.5 L424.4 981.0 L422.1 983.4 L419.7 985.7 L417.3 988.0 L414.9 990.1 L412.4 992.2 L410.0 994.1 L407.5 996.0 L405.0 997.7 L402.5 999.4 L400.0 1000.9 L397.5 1002.3 L395.0 1003.7 L392.6 1004.9 L390.2 1006.0 L387.9 1006.9 L385.6 1007.8 L383.6 1008.5 L381.7 1009.0 L380.3 1009.4" fill="none" stroke="#a8a8a8" stroke-width="1" opacity="0.6"/>
<!-- collar -->
<ellipse cx="406" cy="841.4" rx="65" ry="75.4" fill="url(#collarg)" stroke="#8a8a8a" stroke-width="0.8"/>
<ellipse cx="410" cy="840" rx="52" ry="62" fill="#a8a8a8"/>
<ellipse cx="412" cy="840" rx="49.5" ry="59.5" fill="#d6d6d6"/>
<path d="M373 800 A36 54 0 0 1 400 790 L393 800 A30 50 0 0 0 383 880 L378 875 A48 58 0 0 1 373 800 Z" fill="#c4c4c4" opacity="0.6"/>
<ellipse cx="423" cy="839.5" rx="36.4" ry="54.5" fill="#fff"/>
<g clip-path="url(#holeclip)">
<ellipse cx="508" cy="825.5" rx="71.5" ry="85.5" fill="url(#diskg)"/>
</g>
<g stroke="#1a1a1a" stroke-width="1.6" stroke-dasharray="9 3">
<line x1="390.3" y1="840.3" x2="471" y2="831.5"/>
<line x1="410" y1="842" x2="471" y2="835.5"/>
</g>
<defs><linearGradient id="condg" x1="0" y1="0" x2="0" y2="1"><stop offset="0" stop-color="#c0c0e6"/><stop offset="0.6" stop-color="#a2a2cc"/><stop offset="1" stop-color="#8484ae"/></linearGradient></defs>
<g transform="translate(0 0)">
<g transform="translate(180 1110) scale(0.12868)">
<path d="M540 878 L652 878 L652 1072 L540 1072 Z" fill="#1a1a1a"/>
<path d="M545 940 L648 935" stroke="#444" stroke-width="6"/>
<path d="M468 75 C460 250 420 430 340 525 C310 555 280 575 250 588" fill="none" stroke="#1e1e1e" stroke-width="34" stroke-linecap="round"/><path d="M468 75 C460 250 420 430 340 525 C310 555 280 575 250 588" fill="none" stroke="#6b2d90" stroke-width="24" stroke-linecap="round"/>
<path d="M495 130 C500 300 470 480 400 545 C360 580 290 560 255 480 C240 440 230 410 225 390" fill="none" stroke="#1e1e1e" stroke-width="34" stroke-linecap="round"/><path d="M495 130 C500 300 470 480 400 545 C360 580 290 560 255 480 C240 440 230 410 225 390" fill="none" stroke="#454545" stroke-width="24" stroke-linecap="round"/>
<path d="M590 85 C570 250 560 450 590 530 C620 570 660 480 670 420 L680 370" fill="none" stroke="#1e1e1e" stroke-width="34" stroke-linecap="round"/><path d="M590 85 C570 250 560 450 590 530 C620 570 660 480 670 420 L680 370" fill="none" stroke="#d4d4dc" stroke-width="24" stroke-linecap="round"/>
<path d="M672 90 C685 200 725 350 790 530 C810 500 830 430 830 380" fill="none" stroke="#1e1e1e" stroke-width="34" stroke-linecap="round"/><path d="M672 90 C685 200 725 350 790 530 C810 500 830 430 830 380" fill="none" stroke="#3a3a3a" stroke-width="24" stroke-linecap="round"/>
<path d="M715 85 C740 200 800 350 875 520 C900 500 930 440 930 390" fill="none" stroke="#1e1e1e" stroke-width="34" stroke-linecap="round"/><path d="M715 85 C740 200 800 350 875 520 C900 500 930 440 930 390" fill="none" stroke="#3d7d3d" stroke-width="24" stroke-linecap="round"/>
<path d="M140 395 C130 450 150 560 260 600 C400 650 540 740 572 880" fill="none" stroke="#1e1e1e" stroke-width="34" stroke-linecap="round"/><path d="M140 395 C130 450 150 560 260 600 C400 650 540 740 572 880" fill="none" stroke="#6b2d90" stroke-width="24" stroke-linecap="round"/>
<path d="M225 395 C240 450 280 540 360 600 C460 680 560 760 598 880" fill="none" stroke="#1e1e1e" stroke-width="34" stroke-linecap="round"/><path d="M225 395 C240 450 280 540 360 600 C460 680 560 760 598 880" fill="none" stroke="#454545" stroke-width="24" stroke-linecap="round"/>
<path d="M690 385 C690 520 630 650 612 760 L605 880" fill="none" stroke="#1e1e1e" stroke-width="34" stroke-linecap="round"/><path d="M690 385 C690 520 630 650 612 760 L605 880" fill="none" stroke="#d4d4dc" stroke-width="24" stroke-linecap="round"/>
<path d="M830 400 C820 520 740 600 690 680 C650 740 630 800 622 880" fill="none" stroke="#1e1e1e" stroke-width="34" stroke-linecap="round"/><path d="M830 400 C820 520 740 600 690 680 C650 740 630 800 622 880" fill="none" stroke="#3a3a3a" stroke-width="24" stroke-linecap="round"/>
<path d="M930 400 C940 500 850 580 780 640 C720 700 665 780 640 880" fill="none" stroke="#1e1e1e" stroke-width="34" stroke-linecap="round"/><path d="M930 400 C940 500 850 580 780 640 C720 700 665 780 640 880" fill="none" stroke="#3d7d3d" stroke-width="24" stroke-linecap="round"/>
<rect x="134" y="358" width="12" height="34" fill="#b06a40" stroke="#3a2010" stroke-width="3" transform="rotate(-10 140 375)"/>
<rect x="216" y="353" width="12" height="34" fill="#b06a40" stroke="#3a2010" stroke-width="3" transform="rotate(-30 222 370)"/>
<rect x="676" y="328" width="12" height="34" fill="#b06a40" stroke="#3a2010" stroke-width="3" transform="rotate(0 682 345)"/>
<rect x="824" y="333" width="12" height="34" fill="#b06a40" stroke="#3a2010" stroke-width="3" transform="rotate(0 830 350)"/>
<rect x="914" y="338" width="12" height="34" fill="#b06a40" stroke="#3a2010" stroke-width="3" transform="rotate(0 920 355)"/>
<g transform="translate(105 268) rotate(-18)"><rect x="-27.5" y="-50.0" width="55" height="100" rx="8" fill="#3050d8" stroke="#101010" stroke-width="5"/><rect x="-27.5" y="-50.0" width="55" height="30.0" rx="6" fill="#161616"/><rect x="-17.5" y="-5.0" width="13.75" height="40.0" fill="#5a78e8" opacity="0.6"/></g>
<g transform="translate(168 265) rotate(-18)"><rect x="-27.5" y="-50.0" width="55" height="100" rx="8" fill="#3050d8" stroke="#101010" stroke-width="5"/><rect x="-27.5" y="-50.0" width="55" height="30.0" rx="6" fill="#161616"/><rect x="-17.5" y="-5.0" width="13.75" height="40.0" fill="#5a78e8" opacity="0.6"/></g>
<g transform="translate(676 232) rotate(0)"><rect x="-29.0" y="-54.0" width="58" height="108" rx="8" fill="#3050d8" stroke="#101010" stroke-width="5"/><rect x="-29.0" y="-54.0" width="58" height="32.4" rx="6" fill="#161616"/><rect x="-19.0" y="-5.399999999999999" width="14.5" height="43.2" fill="#5a78e8" opacity="0.6"/></g>
<g transform="translate(838 238) rotate(0)"><rect x="-29.0" y="-56.0" width="58" height="112" rx="8" fill="#3050d8" stroke="#101010" stroke-width="5"/><rect x="-29.0" y="-56.0" width="58" height="33.6" rx="6" fill="#161616"/><rect x="-19.0" y="-5.600000000000001" width="14.5" height="44.800000000000004" fill="#5a78e8" opacity="0.6"/></g>
<g transform="translate(932 250) rotate(0)"><rect x="-38.0" y="-63.0" width="76" height="126" rx="8" fill="#3050d8" stroke="#101010" stroke-width="5"/><rect x="-38.0" y="-63.0" width="76" height="37.8" rx="6" fill="#161616"/><rect x="-28.0" y="-6.299999999999997" width="19.0" height="50.400000000000006" fill="#5a78e8" opacity="0.6"/></g>
</g>
<g transform="translate(120 1070) scale(0.20222)">
<path d="M470 95 L550 76 L850 80 L890 98 L890 255 L850 275 L550 284 L470 265 Z" fill="#a6a6ae" stroke="#222" stroke-width="4"/>
<ellipse cx="600" cy="140" rx="30" ry="45" fill="#c8c8d0" opacity="0.55"/>
<ellipse cx="700" cy="120" rx="25" ry="30" fill="#c0c0c8" opacity="0.5"/>
<ellipse cx="760" cy="205" rx="45" ry="18" fill="#c4c4cc" opacity="0.5"/>
<ellipse cx="620" cy="210" rx="25" ry="15" fill="#8c8c94" opacity="0.5"/>
<path d="M470 238 L890 232 L890 255 L850 275 L550 284 L470 265 Z" fill="#c4c4d0" stroke="#222" stroke-width="3"/>
<line x1="550" y1="78" x2="550" y2="284" stroke="#2a2a2a" stroke-width="4"/>
<line x1="655" y1="74" x2="655" y2="282" stroke="#2a2a2a" stroke-width="4"/>
<line x1="850" y1="80" x2="850" y2="275" stroke="#2a2a2a" stroke-width="3"/>
<line x1="22" y1="146" x2="225" y2="156" stroke="#202020" stroke-width="24" stroke-linecap="round"/>
<path d="M215 118 L525 132 L525 224 L215 210 Z" fill="url(#condg)" stroke="#222" stroke-width="4"/>
<ellipse cx="525" cy="178" rx="12" ry="46" fill="#9c9cc6" stroke="#222" stroke-width="3"/>
<ellipse cx="215" cy="164" rx="14" ry="46" fill="#8a8ab4" stroke="#222" stroke-width="4"/>
<ellipse cx="219" cy="158" rx="7" ry="22" fill="#3a3a3a"/>
<path d="M712 132 L862 88 L890 170 L724 222 Z" fill="#7c7ca4" stroke="#222" stroke-width="4"/>
<ellipse cx="716" cy="177" rx="16" ry="45" fill="#74749c" stroke="#222" stroke-width="4"/>
<ellipse cx="876" cy="129" rx="24" ry="42" fill="#4c4c56" stroke="#222" stroke-width="4"/>
<line x1="880" y1="110" x2="975" y2="106" stroke="#1e1e1e" stroke-width="18" stroke-linecap="round"/>
<line x1="880" y1="110" x2="975" y2="106" stroke="#3a7a3a" stroke-width="10" stroke-linecap="round"/>
<line x1="880" y1="132" x2="965" y2="126" stroke="#1e1e1e" stroke-width="16" stroke-linecap="round"/>
</g>
</g>
<g transform="translate(482 -9)">
<g transform="translate(180 1110) scale(0.12868)">
<path d="M540 878 L652 878 L652 1072 L540 1072 Z" fill="#1a1a1a"/>
<path d="M545 940 L648 935" stroke="#444" stroke-width="6"/>
<path d="M468 75 C460 250 420 430 340 525 C310 555 280 575 250 588" fill="none" stroke="#1e1e1e" stroke-width="34" stroke-linecap="round"/><path d="M468 75 C460 250 420 430 340 525 C310 555 280 575 250 588" fill="none" stroke="#6b2d90" stroke-width="24" stroke-linecap="round"/>
<path d="M495 130 C500 300 470 480 400 545 C360 580 290 560 255 480 C240 440 230 410 225 390" fill="none" stroke="#1e1e1e" stroke-width="34" stroke-linecap="round"/><path d="M495 130 C500 300 470 480 400 545 C360 580 290 560 255 480 C240 440 230 410 225 390" fill="none" stroke="#454545" stroke-width="24" stroke-linecap="round"/>
<path d="M590 85 C570 250 560 450 590 530 C620 570 660 480 670 420 L680 370" fill="none" stroke="#1e1e1e" stroke-width="34" stroke-linecap="round"/><path d="M590 85 C570 250 560 450 590 530 C620 570 660 480 670 420 L680 370" fill="none" stroke="#d4d4dc" stroke-width="24" stroke-linecap="round"/>
<path d="M672 90 C685 200 725 350 790 530 C810 500 830 430 830 380" fill="none" stroke="#1e1e1e" stroke-width="34" stroke-linecap="round"/><path d="M672 90 C685 200 725 350 790 530 C810 500 830 430 830 380" fill="none" stroke="#3a3a3a" stroke-width="24" stroke-linecap="round"/>
<path d="M700 90 C730 200 800 330 880 470 C930 540 1000 560 1030 500 C1040 450 1000 400 975 380" fill="none" stroke="#1e1e1e" stroke-width="34" stroke-linecap="round"/><path d="M700 90 C730 200 800 330 880 470 C930 540 1000 560 1030 500 C1040 450 1000 400 975 380" fill="none" stroke="#c8802a" stroke-width="24" stroke-linecap="round"/>
<path d="M715 85 C740 200 800 350 875 520 C900 500 930 440 930 390" fill="none" stroke="#1e1e1e" stroke-width="34" stroke-linecap="round"/><path d="M715 85 C740 200 800 350 875 520 C900 500 930 440 930 390" fill="none" stroke="#3d7d3d" stroke-width="24" stroke-linecap="round"/>
<path d="M140 395 C130 450 150 560 260 600 C400 650 540 740 572 880" fill="none" stroke="#1e1e1e" stroke-width="34" stroke-linecap="round"/><path d="M140 395 C130 450 150 560 260 600 C400 650 540 740 572 880" fill="none" stroke="#6b2d90" stroke-width="24" stroke-linecap="round"/>
<path d="M225 395 C240 450 280 540 360 600 C460 680 560 760 598 880" fill="none" stroke="#1e1e1e" stroke-width="34" stroke-linecap="round"/><path d="M225 395 C240 450 280 540 360 600 C460 680 560 760 598 880" fill="none" stroke="#454545" stroke-width="24" stroke-linecap="round"/>
<path d="M690 385 C690 520 630 650 612 760 L605 880" fill="none" stroke="#1e1e1e" stroke-width="34" stroke-linecap="round"/><path d="M690 385 C690 520 630 650 612 760 L605 880" fill="none" stroke="#d4d4dc" stroke-width="24" stroke-linecap="round"/>
<path d="M965 405 C950 520 850 600 760 660 C700 710 660 780 642 880" fill="none" stroke="#1e1e1e" stroke-width="34" stroke-linecap="round"/><path d="M965 405 C950 520 850 600 760 660 C700 710 660 780 642 880" fill="none" stroke="#b03a20" stroke-width="24" stroke-linecap="round"/>
<path d="M830 400 C820 520 740 600 690 680 C650 740 630 800 622 880" fill="none" stroke="#1e1e1e" stroke-width="34" stroke-linecap="round"/><path d="M830 400 C820 520 740 600 690 680 C650 740 630 800 622 880" fill="none" stroke="#3a3a3a" stroke-width="24" stroke-linecap="round"/>
<path d="M930 400 C940 500 850 580 780 640 C720 700 665 780 640 880" fill="none" stroke="#1e1e1e" stroke-width="34" stroke-linecap="round"/><path d="M930 400 C940 500 850 580 780 640 C720 700 665 780 640 880" fill="none" stroke="#3d7d3d" stroke-width="24" stroke-linecap="round"/>
<rect x="134" y="358" width="12" height="34" fill="#b06a40" stroke="#3a2010" stroke-width="3" transform="rotate(-10 140 375)"/>
<rect x="216" y="353" width="12" height="34" fill="#b06a40" stroke="#3a2010" stroke-width="3" transform="rotate(-30 222 370)"/>
<rect x="676" y="328" width="12" height="34" fill="#b06a40" stroke="#3a2010" stroke-width="3" transform="rotate(0 682 345)"/>
<rect x="824" y="333" width="12" height="34" fill="#b06a40" stroke="#3a2010" stroke-width="3" transform="rotate(0 830 350)"/>
<rect x="914" y="338" width="12" height="34" fill="#b06a40" stroke="#3a2010" stroke-width="3" transform="rotate(0 920 355)"/>
<rect x="959" y="348" width="12" height="34" fill="#b06a40" stroke="#3a2010" stroke-width="3" transform="rotate(10 965 365)"/>
<g transform="translate(105 268) rotate(-18)"><rect x="-27.5" y="-50.0" width="55" height="100" rx="8" fill="#3050d8" stroke="#101010" stroke-width="5"/><rect x="-27.5" y="-50.0" width="55" height="30.0" rx="6" fill="#161616"/><rect x="-17.5" y="-5.0" width="13.75" height="40.0" fill="#5a78e8" opacity="0.6"/></g>
<g transform="translate(168 265) rotate(-18)"><rect x="-27.5" y="-50.0" width="55" height="100" rx="8" fill="#3050d8" stroke="#101010" stroke-width="5"/><rect x="-27.5" y="-50.0" width="55" height="30.0" rx="6" fill="#161616"/><rect x="-17.5" y="-5.0" width="13.75" height="40.0" fill="#5a78e8" opacity="0.6"/></g>
<g transform="translate(676 232) rotate(0)"><rect x="-29.0" y="-54.0" width="58" height="108" rx="8" fill="#3050d8" stroke="#101010" stroke-width="5"/><rect x="-29.0" y="-54.0" width="58" height="32.4" rx="6" fill="#161616"/><rect x="-19.0" y="-5.399999999999999" width="14.5" height="43.2" fill="#5a78e8" opacity="0.6"/></g>
<g transform="translate(838 238) rotate(0)"><rect x="-29.0" y="-56.0" width="58" height="112" rx="8" fill="#3050d8" stroke="#101010" stroke-width="5"/><rect x="-29.0" y="-56.0" width="58" height="33.6" rx="6" fill="#161616"/><rect x="-19.0" y="-5.600000000000001" width="14.5" height="44.800000000000004" fill="#5a78e8" opacity="0.6"/></g>
<g transform="translate(932 250) rotate(0)"><rect x="-38.0" y="-63.0" width="76" height="126" rx="8" fill="#3050d8" stroke="#101010" stroke-width="5"/><rect x="-38.0" y="-63.0" width="76" height="37.8" rx="6" fill="#161616"/><rect x="-28.0" y="-6.299999999999997" width="19.0" height="50.400000000000006" fill="#5a78e8" opacity="0.6"/></g>
</g>
<g transform="translate(120 1070) scale(0.20222)">
<path d="M470 95 L550 76 L850 80 L890 98 L890 255 L850 275 L550 284 L470 265 Z" fill="#a6a6ae" stroke="#222" stroke-width="4"/>
<ellipse cx="600" cy="140" rx="30" ry="45" fill="#c8c8d0" opacity="0.55"/>
<ellipse cx="700" cy="120" rx="25" ry="30" fill="#c0c0c8" opacity="0.5"/>
<ellipse cx="760" cy="205" rx="45" ry="18" fill="#c4c4cc" opacity="0.5"/>
<ellipse cx="620" cy="210" rx="25" ry="15" fill="#8c8c94" opacity="0.5"/>
<path d="M470 238 L890 232 L890 255 L850 275 L550 284 L470 265 Z" fill="#c4c4d0" stroke="#222" stroke-width="3"/>
<line x1="550" y1="78" x2="550" y2="284" stroke="#2a2a2a" stroke-width="4"/>
<line x1="655" y1="74" x2="655" y2="282" stroke="#2a2a2a" stroke-width="4"/>
<line x1="850" y1="80" x2="850" y2="275" stroke="#2a2a2a" stroke-width="3"/>
<line x1="22" y1="146" x2="225" y2="156" stroke="#202020" stroke-width="24" stroke-linecap="round"/>
<path d="M215 118 L525 132 L525 224 L215 210 Z" fill="url(#condg)" stroke="#222" stroke-width="4"/>
<ellipse cx="525" cy="178" rx="12" ry="46" fill="#9c9cc6" stroke="#222" stroke-width="3"/>
<ellipse cx="215" cy="164" rx="14" ry="46" fill="#8a8ab4" stroke="#222" stroke-width="4"/>
<ellipse cx="219" cy="158" rx="7" ry="22" fill="#3a3a3a"/>
<path d="M712 132 L862 88 L890 170 L724 222 Z" fill="#7c7ca4" stroke="#222" stroke-width="4"/>
<ellipse cx="716" cy="177" rx="16" ry="45" fill="#74749c" stroke="#222" stroke-width="4"/>
<ellipse cx="876" cy="129" rx="24" ry="42" fill="#4c4c56" stroke="#222" stroke-width="4"/>
<line x1="880" y1="110" x2="975" y2="106" stroke="#1e1e1e" stroke-width="18" stroke-linecap="round"/>
<line x1="880" y1="110" x2="975" y2="106" stroke="#3a7a3a" stroke-width="10" stroke-linecap="round"/>
<line x1="880" y1="132" x2="965" y2="126" stroke="#1e1e1e" stroke-width="16" stroke-linecap="round"/>
<line x1="880" y1="150" x2="960" y2="146" stroke="#1e1e1e" stroke-width="16" stroke-linecap="round"/>
<line x1="880" y1="150" x2="960" y2="146" stroke="#c8802a" stroke-width="9" stroke-linecap="round"/>
</g>
</g>
<!-- figure arrows -->
<line x1="199.3" y1="699.0" x2="232.7" y2="729.7" stroke="#000" stroke-width="1.2"/>
<path d="M243.7 739.9 L229.4 730.4 L233.0 726.4 Z" fill="#000"/>
<line x1="148.2" y1="772.5" x2="326.3" y2="832.2" stroke="#000" stroke-width="1.2"/>
<path d="M340.5 837.0 L323.5 834.2 L325.2 829.0 Z" fill="#000"/>
<line x1="122.5" y1="856.0" x2="331.0" y2="868.9" stroke="#000" stroke-width="1.2"/>
<path d="M346.0 869.8 L328.9 871.4 L329.2 866.1 Z" fill="#000"/>
<text x="946.17" y="58.50" font-size="20.30" font-weight="bold" textLength="78.23" lengthAdjust="spacingAndGlyphs">DRACO</text>
<text x="874.00" y="79.60" font-size="20.30" font-weight="bold" textLength="150.77" lengthAdjust="spacingAndGlyphs">(DRC &amp; DRCG)</text>
<text x="377.91" y="124.40" font-size="21.00" textLength="303.85" lengthAdjust="spacingAndGlyphs">INSTALLATION INSTRUCTION</text>
<text x="341.11" y="167.80" font-size="29.50" font-weight="bold" textLength="375.64" lengthAdjust="spacingAndGlyphs">IMPORTANT SAFEGUARDS</text>
<text x="64.18" y="230.10" font-size="15.20" textLength="214.23" lengthAdjust="spacingAndGlyphs">Read &amp; Follow All Safety Instructions</text>
<text x="65.20" y="261.70" font-size="15.20" textLength="551.98" lengthAdjust="spacingAndGlyphs">When using electrical equipment, basic safety precautions should always be followed including:</text>
<text x="59.02" y="294.00" font-size="15.20" textLength="10.39" lengthAdjust="spacingAndGlyphs">1.</text>
<text x="84.08" y="294.00" font-size="15.20" textLength="880.30" lengthAdjust="spacingAndGlyphs">Disconnect power before performing work on electrical equipment (using the light switch to turn off the power is not sufficient to prevent electrical shock)</text>
<text x="59.22" y="310.05" font-size="15.20" textLength="10.39" lengthAdjust="spacingAndGlyphs">2.</text>
<text x="84.08" y="310.05" font-size="15.20" textLength="118.03" lengthAdjust="spacingAndGlyphs">Do not use outdoors</text>
<text x="59.41" y="326.10" font-size="15.20" textLength="10.39" lengthAdjust="spacingAndGlyphs">3.</text>
<text x="84.08" y="326.10" font-size="15.20" textLength="241.13" lengthAdjust="spacingAndGlyphs">Do not mount near gas or electric heaters</text>
<text x="59.61" y="342.15" font-size="15.20" textLength="10.39" lengthAdjust="spacingAndGlyphs">4.</text>
<text x="84.08" y="342.15" font-size="15.20" textLength="722.96" lengthAdjust="spacingAndGlyphs">Do not install in unstable, loose or breakable surfaces and Do not let objects impact or exert force on the suface of the fixture</text>
<text x="59.41" y="358.20" font-size="15.20" textLength="10.39" lengthAdjust="spacingAndGlyphs">5.</text>
<text x="84.08" y="358.20" font-size="15.20" textLength="739.39" lengthAdjust="spacingAndGlyphs">Equipment should be mounted in locations and at heights where it will not be subjected to tampering by unauthorized personnel</text>
<text x="59.22" y="374.25" font-size="15.20" textLength="10.39" lengthAdjust="spacingAndGlyphs">6.</text>
<text x="84.90" y="374.25" font-size="15.20" textLength="757.10" lengthAdjust="spacingAndGlyphs">The use of accessory equipment not recommended by Beghelli Inc may cause an unsafe condition and will void the unit’s warranty</text>
<text x="59.22" y="390.30" font-size="15.20" textLength="10.39" lengthAdjust="spacingAndGlyphs">7.</text>
<text x="84.07" y="390.30" font-size="15.20" textLength="356.16" lengthAdjust="spacingAndGlyphs">Do not use this equipment for other than its intended purpose</text>
<text x="59.41" y="406.35" font-size="15.20" textLength="10.39" lengthAdjust="spacingAndGlyphs">8.</text>
<text x="84.08" y="406.35" font-size="15.20" textLength="906.06" lengthAdjust="spacingAndGlyphs">Installation and servicing of this equipment should be performed by a qualified electrician familiar with the product and the hazards involved to prevent wiring</text>
<text x="84.69" y="422.40" font-size="15.20" textLength="514.12" lengthAdjust="spacingAndGlyphs">damage or abrasion, do not expose wiring to edges of sheet metal or other sharp objects</text>
<text x="148.60" y="481.90" font-size="16.00" font-weight="bold" textLength="64.18" lengthAdjust="spacingAndGlyphs">WARNING</text>
<text x="637.20" y="481.90" font-size="16.00" font-weight="bold" textLength="58.65" lengthAdjust="spacingAndGlyphs">CAUTION</text>
<text x="58.12" y="514.60" font-size="15.20" textLength="10.39" lengthAdjust="spacingAndGlyphs">1.</text>
<text x="83.70" y="514.60" font-size="15.20" textLength="464.24" lengthAdjust="spacingAndGlyphs">Verify correct supply voltage by comparing it with the luminaire label information</text>
<text x="58.32" y="530.80" font-size="15.20" textLength="10.39" lengthAdjust="spacingAndGlyphs">2.</text>
<text x="83.70" y="530.80" font-size="15.20" textLength="434.71" lengthAdjust="spacingAndGlyphs">All wiring connections should be capped with UL approved wire connectors</text>
<text x="58.51" y="547.00" font-size="15.20" textLength="10.39" lengthAdjust="spacingAndGlyphs">3.</text>
<text x="82.87" y="547.00" font-size="15.20" textLength="197.25" lengthAdjust="spacingAndGlyphs">Use minimum 90°C Supply Wires</text>
<text x="600.52" y="514.60" font-size="15.20" textLength="10.39" lengthAdjust="spacingAndGlyphs">1.</text>
<text x="626.50" y="514.60" font-size="15.20" textLength="333.24" lengthAdjust="spacingAndGlyphs">Avoid direct eye exposure to the light source while it is on</text>
<text x="600.72" y="530.60" font-size="15.20" textLength="10.39" lengthAdjust="spacingAndGlyphs">2.</text>
<text x="625.47" y="530.60" font-size="15.20" textLength="417.27" lengthAdjust="spacingAndGlyphs">Beware- small parts and packing material may be hazardous to children</text>
<text x="600.91" y="546.60" font-size="15.20" textLength="10.39" lengthAdjust="spacingAndGlyphs">3.</text>
<text x="625.47" y="546.60" font-size="15.20" textLength="414.87" lengthAdjust="spacingAndGlyphs">Risk of burn; Disconnect power and allow fixture to cool before handing</text>
<text x="626.50" y="562.60" font-size="15.20" textLength="35.02" lengthAdjust="spacingAndGlyphs">fixture</text>
<text x="438.29" y="603.80" font-size="16.00" font-weight="bold" textLength="185.15" lengthAdjust="spacingAndGlyphs">SAVE THESE INSTRUCTIONS</text>
<text x="65.80" y="650.00" font-size="16.00" font-weight="bold" textLength="502.07" lengthAdjust="spacingAndGlyphs">TYPICAL DRC ACRYLIC REFRACTOR / ALUMINUM REFLECTOR INSTALLATION</text>
<text x="86.67" y="705.60" font-size="15.20" textLength="110.39" lengthAdjust="spacingAndGlyphs">Refractor/Reflector</text>
<text x="84.48" y="779.00" font-size="15.20" textLength="63.34" lengthAdjust="spacingAndGlyphs">(4) Screws</text>
<text x="86.58" y="862.60" font-size="15.20" textLength="34.69" lengthAdjust="spacingAndGlyphs">Collar</text>
<text x="154.59" y="1057.00" font-size="15.50" textLength="168.39" lengthAdjust="spacingAndGlyphs">TYPICAL AC ONLY WIRING</text>
<text x="45.29" y="1161.00" font-size="15.50" font-weight="bold" textLength="115.08" lengthAdjust="spacingAndGlyphs">0-10V LEAD / DALI</text>
<text x="45.70" y="1203.00" font-size="15.50" textLength="111.78" lengthAdjust="spacingAndGlyphs">VIOLET......(DIM +)</text>
<text x="45.07" y="1223.70" font-size="15.50" textLength="107.63" lengthAdjust="spacingAndGlyphs">GRAY........(DIM -)</text>
<text x="350.40" y="1139.70" font-size="15.50" font-weight="bold" textLength="66.14" lengthAdjust="spacingAndGlyphs">AC LEADS</text>
<text x="349.57" y="1181.90" font-size="15.50" textLength="105.82" lengthAdjust="spacingAndGlyphs">BLACK...... (HOT)</text>
<text x="350.60" y="1202.50" font-size="15.50" textLength="140.78" lengthAdjust="spacingAndGlyphs">WHITE........(NEUTRAL)</text>
<text x="349.99" y="1223.80" font-size="15.50" textLength="139.19" lengthAdjust="spacingAndGlyphs">GREEN...... (GROUND)</text>
<text x="652.19" y="1059.70" font-size="15.50" textLength="164.79" lengthAdjust="spacingAndGlyphs">TYPICAL AC &amp; EM WIRING</text>
<text x="526.99" y="1152.40" font-size="15.50" font-weight="bold" textLength="115.78" lengthAdjust="spacingAndGlyphs">0-10V LEAD / DALI</text>
<text x="527.40" y="1194.40" font-size="15.50" textLength="112.29" lengthAdjust="spacingAndGlyphs">VIOLET......(DIM +)</text>
<text x="526.77" y="1215.00" font-size="15.50" textLength="107.13" lengthAdjust="spacingAndGlyphs">GRAY........(DIM -)</text>
<text x="811.50" y="1124.70" font-size="15.50" font-weight="bold" textLength="65.64" lengthAdjust="spacingAndGlyphs">AC LEADS</text>
<text x="810.68" y="1167.10" font-size="15.50" textLength="146.70" lengthAdjust="spacingAndGlyphs">BLACK...... (SWITCHED)</text>
<text x="811.70" y="1188.40" font-size="15.50" textLength="140.68" lengthAdjust="spacingAndGlyphs">WHITE........(NEUTRAL)</text>
<text x="811.09" y="1209.20" font-size="15.50" textLength="138.18" lengthAdjust="spacingAndGlyphs">GREEN...... (GROUND)</text>
<text x="810.68" y="1229.80" font-size="15.50" textLength="189.20" lengthAdjust="spacingAndGlyphs">RED/ORANGE (UNSWITCHED)</text>
<text x="228.91" y="1283.60" font-size="15.20" textLength="4.36" lengthAdjust="spacingAndGlyphs">•</text>
<text x="253.59" y="1284.90" font-size="15.60" textLength="557.35" lengthAdjust="spacingAndGlyphs">0-10V DIMMING WIRES MUST BE RUN FROM A DIFFERENT CONDUIT OUT OF THE J-BOX</text>
<text x="308.37" y="1334.10" font-size="13.80" font-weight="bold" textLength="481.81" lengthAdjust="spacingAndGlyphs">BEGHELLI USA., 3810 Executive Way, Miramar, Florida 33025, USA. Tel: (954) 442-6600</text>
<text x="508.99" y="1369.50" font-size="15.00" font-weight="bold" textLength="68.53" lengthAdjust="spacingAndGlyphs">Page 1 of 2</text>
<text x="929.57" y="1376.80" font-size="13.90" textLength="108.58" lengthAdjust="spacingAndGlyphs">92610000710/04/24A</text>
</svg>
</body></html>
